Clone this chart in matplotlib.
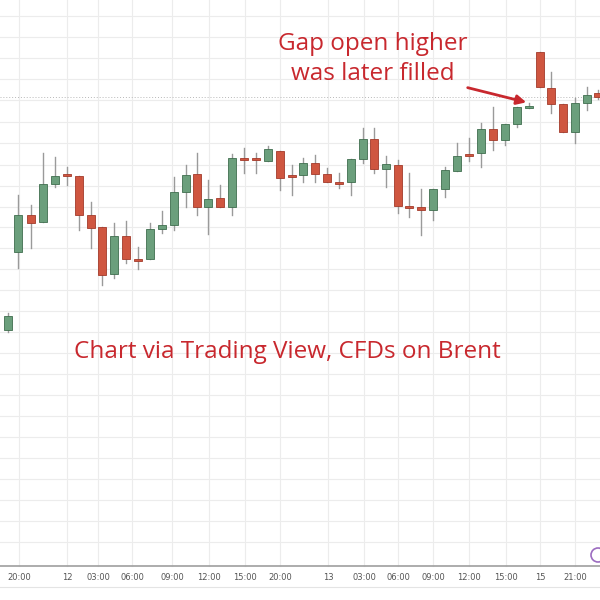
import matplotlib.pyplot as plt
from matplotlib.patches import Rectangle, Circle

# candle data in chart units (screen-like scale, smaller = higher price)
xs = [8, 18, 31, 43, 55, 67, 79, 91, 102, 114, 126, 138, 150, 162, 174, 186, 197, 208,
      220, 232, 244, 256, 268, 280, 292, 303, 315, 327, 339, 351, 363, 374, 386, 398,
      409, 421, 433, 445, 457, 469, 481, 493, 505, 517, 529, 540, 551, 563, 575, 587, 598]
opens = [330, 252, 215, 222, 184, 174, 176, 215, 227, 274, 236, 259, 259, 229, 225, 192,
         174, 207, 198, 207, 158, 158, 161, 151, 175, 175, 163, 174, 182, 182, 159, 139,
         169, 165, 206, 207, 210, 189, 171, 154, 153, 129, 140, 124, 107, 52, 88, 104, 132, 103, 93]
closes = [316, 215, 223, 184, 176, 174, 215, 228, 275, 236, 259, 259, 229, 225, 192, 175,
          207, 199, 207, 158, 159, 160, 149, 178, 175, 163, 174, 182, 182, 159, 139, 169,
          164, 206, 208, 210, 189, 170, 156, 154, 129, 140, 124, 107, 106, 87, 104, 132, 103, 95, 97]
highs = [313, 195, 205, 153, 157, 167, 176, 202, 227, 223, 221, 247, 223, 211, 177, 165,
         153, 180, 185, 154, 148, 153, 146, 151, 165, 158, 155, 168, 173, 159, 128, 128,
         156, 160, 173, 189, 189, 167, 143, 138, 123, 107, 124, 107, 103, 52, 72, 104, 98, 87, 90]
lows = [332, 268, 248, 222, 187, 185, 230, 248, 285, 278, 263, 269, 259, 233, 230, 207,
        215, 234, 207, 215, 173, 173, 161, 190, 195, 182, 182, 182, 188, 195, 163, 173,
        187, 213, 217, 235, 220, 197, 171, 161, 167, 150, 145, 127, 108, 87, 113, 132, 143, 110, 99]

tick_x = [19, 67, 98, 132, 172, 209, 245, 280, 328, 364, 398, 433, 469, 506, 540, 575]
tick_labels = ['20:00', '12', '03:00', '06:00', '09:00', '12:00', '15:00', '20:00',
               '13', '03:00', '06:00', '09:00', '12:00', '15:00', '15', '21:00']
grid_y = [16, 37, 58, 79, 100, 122, 143, 165, 186, 207, 227, 248, 269, 290, 311, 332,
          353, 374, 395, 416, 437, 458, 479, 500, 521, 542]

GREEN = '#6b9f7c'
RED = '#cf5640'
TXT = '#c8282e'

fig = plt.figure(figsize=(6, 6), dpi=100)
ax = fig.add_axes([0, 0, 1, 1])
ax.set_xlim(0, 600)
ax.set_ylim(600, 0)
ax.axis('off')

for gx in tick_x:
    ax.plot([gx, gx], [0, 566], color='#ececec', lw=0.8, zorder=0)
for gy in grid_y:
    ax.plot([0, 600], [gy, gy], color='#ececec', lw=0.8, zorder=0)

# prior close reference line
ax.plot([0, 600], [97, 97], color='#b8b8b8', lw=0.7, ls=(0, (1, 2)), zorder=1)

w = 8
for x, o, c, h, l in zip(xs, opens, closes, highs, lows):
    col = GREEN if c < o else RED
    edge = '#3f6e4e' if c < o else '#a33a2a'
    ax.plot([x, x], [h, l], color='#9a9a9a', lw=1, zorder=2)
    top, bot = min(o, c), max(o, c)
    hgt = max(bot - top, 1.5)
    ax.add_patch(Rectangle((x - w / 2, top), w, hgt, facecolor=col, edgecolor=edge,
                           lw=0.6, zorder=3))

ax.plot([0, 600], [566, 566], color='#9e9e9e', lw=1.2)
ax.plot([0, 600], [587, 587], color='#e4e4e4', lw=0.8)
for tx, tl in zip(tick_x, tick_labels):
    ax.text(tx, 578, tl, ha='center', va='center', fontsize=6, color='#555555')

ax.add_patch(Circle((598, 555), 7, facecolor='white', edgecolor='#9c6cc0', lw=1.2, zorder=4))

ax.text(287, 352, 'Chart via Trading View, CFDs on Brent', ha='center', va='center',
        fontsize=17.5, color=TXT, family='Open Sans')
ax.text(373, 59, 'Gap open higher\nwas later filled', ha='center', va='center',
        fontsize=17.5, color=TXT, family='Open Sans', linespacing=1.35)
ax.annotate('', xy=(529, 103), xytext=(465, 87),
            arrowprops=dict(arrowstyle='-|>', color=TXT, lw=2, mutation_scale=14))

fig.savefig('out.png', dpi=100)
